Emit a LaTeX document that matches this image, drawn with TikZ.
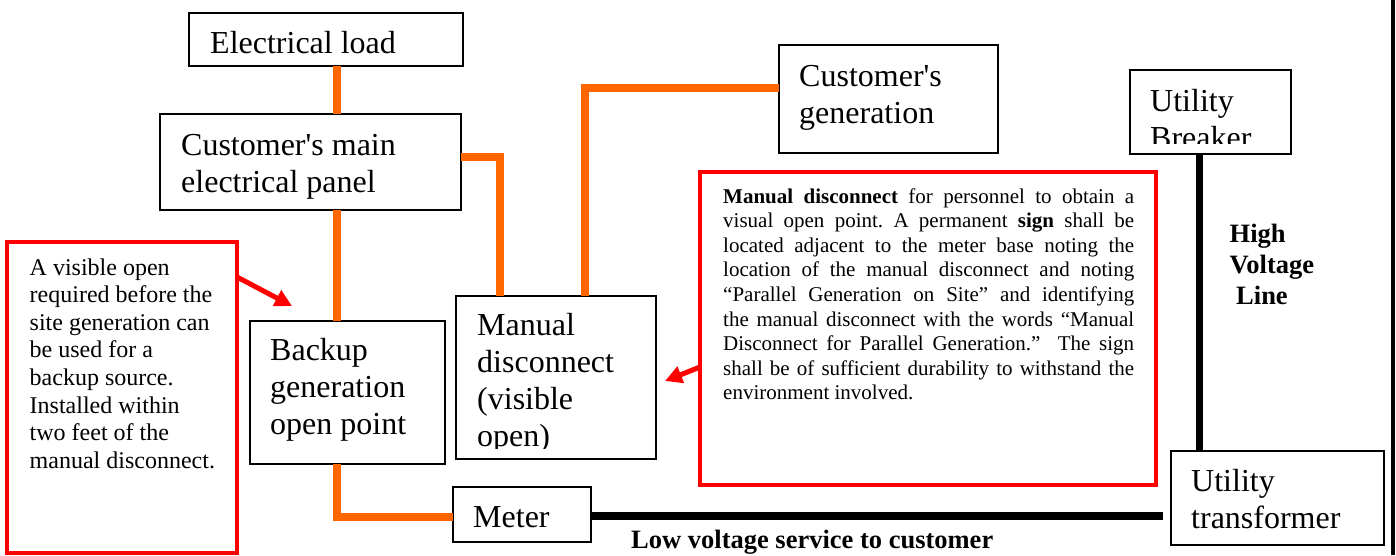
\documentclass[tikz,border=0pt]{standalone}
\usepackage{fontspec}
\setmainfont{Liberation Serif}
\usetikzlibrary{arrows.meta,calc}
\definecolor{wire}{HTML}{FF6600}
\definecolor{notered}{HTML}{FF0000}
\begin{document}
\begin{tikzpicture}[x=1pt,y=-1pt,
  box/.style={draw=black,line width=1.8pt,fill=white,anchor=north west,inner sep=0pt,outer sep=0pt},
  note/.style={draw=notered,line width=3.5pt,anchor=north west,inner sep=0pt,outer sep=0pt},
  boxtext/.style={anchor=base west,inner sep=0pt,font=\fontsize{32}{37}\selectfont},
  smalltext/.style={anchor=base west,inner sep=0pt,font=\fontsize{24}{27.6}\selectfont},
  paratext/.style={anchor=base west,inner sep=0pt,font=\fontsize{21}{24.6}\selectfont},
  boldlabel/.style={anchor=base west,inner sep=0pt,font=\bfseries\fontsize{26.5}{31}\selectfont},
  orangewire/.style={draw=wire,line width=8pt},
  blackwire/.style={draw=black,line width=8pt},
  hvwire/.style={draw=black,line width=7pt},
  redarrow/.style={draw=notered,line width=5pt,-{Triangle[length=17pt,width=17pt]}}
]
\useasboundingbox (0,0) rectangle (1396,555);

% right page edge line
\coordinate (edgetop) at (1393,0);
\coordinate (edgebot) at (1393,555);
\draw[line width=4pt] (edgetop) -- (edgebot);

% helper coordinates for connector positions
\coordinate (xa) at (336.5,0);
\coordinate (xb) at (500,0);
\coordinate (xc) at (585,0);
\coordinate (xh) at (1199.5,0);
\coordinate (yd) at (0,88);
\coordinate (ye) at (0,157);
\coordinate (yf) at (0,517);
\coordinate (yg) at (0,516);

% boxes
\node[box,minimum width=274pt,minimum height=53pt] (load) at (189,13) {};
\node[box,minimum width=301pt,minimum height=96pt] (panel) at (160,114) {};
\node[box,minimum width=219pt,minimum height=108pt] (custgen) at (779,45) {};
\node[box,minimum width=161pt,minimum height=84pt] (breaker) at (1130,70) {};
\node[box,minimum width=195pt,minimum height=143pt] (backup) at (250,321) {};
\node[box,minimum width=200pt,minimum height=163pt] (manual) at (456,296) {};
\node[box,minimum width=138pt,minimum height=55pt] (meter) at (453,487) {};
\node[box,minimum width=213pt,minimum height=94pt] (trans) at (1171,451) {};

% red note boxes
\node[note,minimum width=230pt,minimum height=311pt] (note1) at (7,242) {};
\node[note,minimum width=456pt,minimum height=313pt] (note2) at (700,172) {};

% orange connectors
\draw[orangewire] (load.south -| xa) -- (panel.north -| xa);
\draw[orangewire] (panel.south -| xa) -- (backup.north -| xa);
\draw[orangewire] (backup.south -| xa) -- (xa |- yf) -- (meter.west |- yf);
\draw[orangewire] (panel.east |- ye) -- (xb |- ye) -- (manual.north -| xb);
\draw[orangewire] (manual.north -| xc) -- (xc |- yd) -- (custgen.west |- yd);

% black connectors
\draw[blackwire,shorten >=8pt] (meter.east |- yg) -- (trans.west |- yg);
\draw[hvwire] (breaker.south -| xh) -- (trans.north -| xh);

% red arrows
\coordinate (tip1) at (292,306);
\coordinate (tip2) at (665,381);
\draw[redarrow] (note1.east |- 0,277) -- (tip1);
\draw[redarrow] (note2.west |- 0,367) -- (tip2);

% box texts
\node[boxtext] (loadtxt) at (210,53) {Electrical load};
\node[boxtext] (paneltxt) at (181,155) {\begin{tabular}[t]{@{}l@{}}Customer\textquotesingle s main\\electrical panel\end{tabular}};
\node[boxtext] (custgentxt) at (799,86) {\begin{tabular}[t]{@{}l@{}}Customer\textquotesingle s\\generation\end{tabular}};
\begin{scope}
\clip (1131,71) rectangle (1290,143);
\node[boxtext] (breakertxt) at (1150,111) {\begin{tabular}[t]{@{}l@{}}Utility\\Breaker\end{tabular}};
\end{scope}
\node[boxtext] (backuptxt) at (270,360) {\begin{tabular}[t]{@{}l@{}}Backup\\generation\\open point\end{tabular}};
\begin{scope}
\clip (457,297) rectangle (655,448);
\node[boxtext] (manualtxt) at (477,335) {\begin{tabular}[t]{@{}l@{}}Manual\\disconnect\\(visible\\open)\end{tabular}};
\end{scope}
\node[boxtext] (metertxt) at (473,527) {Meter};
\node[boxtext] (transtxt) at (1191,491) {\begin{tabular}[t]{@{}l@{}}Utility\\transformer\end{tabular}};

% note texts
\node[smalltext] (note1txt) at (29.5,275) {\begin{tabular}[t]{@{}l@{}}A visible open\\required before the\\site generation can\\be used for a\\backup source.\\Installed within\\two feet of the\\manual disconnect.\end{tabular}};
\node[paratext] (note2txt) at (723,203) {\vtop{\hsize=411pt\parindent=0pt\frenchspacing\noindent
\textbf{Manual disconnect} for personnel to obtain a\linebreak
visual open point. A permanent \textbf{sign} shall be\linebreak
located adjacent to the meter base noting the\linebreak
location of the manual disconnect and noting\linebreak
“Parallel Generation on Site” and identifying\linebreak
the manual disconnect with the words “Manual\linebreak
Disconnect for Parallel Generation.”\ \ The sign\linebreak
shall be of sufficient durability to withstand the\linebreak
environment involved.\par}};

% bold labels
\node[boldlabel] (hvtxt) at (1229.5,242) {\begin{tabular}[t]{@{}l@{}}High\\Voltage\\\hspace*{6.5pt}Line\end{tabular}};
\node[boldlabel] (lvtxt) at (631,548) {Low voltage service to customer};
\end{tikzpicture}
\end{document}
